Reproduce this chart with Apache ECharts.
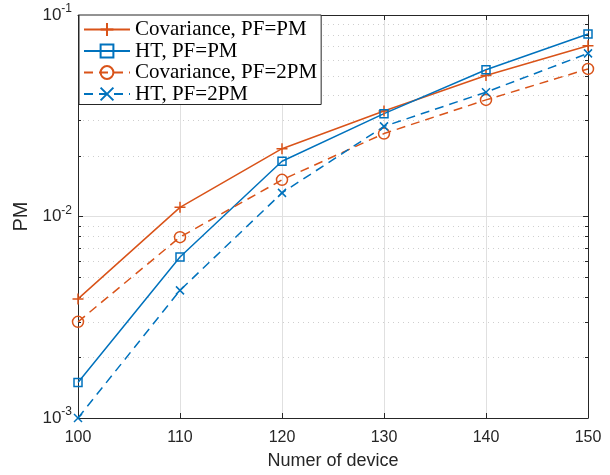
<!DOCTYPE html>
<html>
<head>
<meta charset="utf-8">
<script src="https://cdn.jsdelivr.net/npm/echarts@6/dist/echarts.min.js"></script>
<style>html,body{margin:0;padding:0;background:#fff}#c{width:610px;height:475px}</style>
</head>
<body>
<div id="c"></div>
<script>
const devices = [100, 110, 120, 130, 140, 150];
const covPM  = [0.0039, 0.0111, 0.0217, 0.0334, 0.0501, 0.0703];
const htPM   = [0.0015, 0.0063, 0.0188, 0.0324, 0.0535, 0.0805];
const cov2PM = [0.0030, 0.0079, 0.0152, 0.0258, 0.0379, 0.0540];
const ht2PM  = [0.0010, 0.0043, 0.0131, 0.0280, 0.0414, 0.0645];
const seriesNames = ['Covariance, PF=PM', 'HT, PF=PM', 'Covariance, PF=2PM', 'HT, PF=2PM'];
const minorVals = [0.002,0.003,0.004,0.005,0.006,0.007,0.008,0.009,0.02,0.03,0.04,0.05,0.06,0.07,0.08,0.09];

const ORANGE = '#D95319', BLUE = '#0072BD';
const AX = '#262626';
const plusPath = 'path://M0,-10L0,10M-10,0L10,0';
const crossPath = 'path://M-10,-10L10,10M-10,10L10,-10';

function pairs(vals){ return devices.map((d,i)=>[d, vals[i]]); }

const chart = echarts.init(document.getElementById('c'), null, {renderer:'canvas'});
const axisCommon = {
  axisLine:{show:true, lineStyle:{color:AX, width:1}},
  axisTick:{show:true, inside:true, length:5, lineStyle:{color:AX}},
};
function supFmt(v){
  const e = Math.round(Math.log10(v));
  return '{b|10}{s|' + e + '}';
}
chart.setOption({
  animation:false,
  backgroundColor:'#fff',
  grid:{left:78, right:22, top:15, bottom:56, containLabel:false},
  legend:{
    data: seriesNames,
    orient:'vertical', left:79, top:15,
    backgroundColor:'#fff', borderColor:AX, borderWidth:1,
    padding:[4,4,0,4], itemGap:0.5, itemWidth:46, itemHeight:16,
    textStyle:{fontFamily:'Liberation Serif', fontSize:21, color:'#000'},
  },
  xAxis:[
    Object.assign({type:'value', min:100, max:150, interval:10, position:'bottom',
      name:'Numer of device', nameLocation:'middle', nameGap:34,
      nameTextStyle:{fontFamily:'Liberation Sans', fontSize:18, color:'#262626'},
      axisLabel:{fontFamily:'Liberation Sans', fontSize:16, color:'#262626', margin:12},
      splitLine:{show:true, lineStyle:{color:'#e0e0e0', width:1}}}, axisCommon),
    Object.assign({type:'value', min:100, max:150, interval:10, position:'top',
      axisLabel:{show:false}, splitLine:{show:false}}, axisCommon)
  ],
  yAxis:[
    Object.assign({type:'log', logBase:10, min:0.001, max:0.1, interval:1, position:'left',
      name:'PM', nameLocation:'middle', nameGap:46, nameRotate:90,
      nameTextStyle:{fontFamily:'Liberation Sans', fontSize:20, color:'#262626'},
      axisLabel:{formatter:supFmt, margin:6, color:'#262626',
        rich:{b:{fontFamily:'Liberation Sans', fontSize:17, color:'#262626'},
              s:{fontFamily:'Liberation Sans', fontSize:12, color:'#262626', padding:[0,0,12,0]}}},
      splitLine:{show:true, lineStyle:{color:'#e0e0e0', width:1}}}, axisCommon),
    Object.assign({type:'log', logBase:10, min:0.001, max:0.1, interval:1, position:'right',
      axisLabel:{show:false}, splitLine:{show:false}}, axisCommon)
  ],
  series:[
    {
      type:'custom', name:'minor', silent:true, z:0,
      data: minorVals.map(v=>[100, v]),
      renderItem:function(params, api){
        const cs = params.coordSys;
        const y = Math.round(api.coord([100, api.value(1)])[1]) + 0.5;
        return {type:'group', children:[
          {type:'line', shape:{x1:cs.x, y1:y, x2:cs.x+cs.width, y2:y},
            style:{stroke:'#cfcfcf', lineWidth:1, lineDash:[1,4]}},
          {type:'line', shape:{x1:cs.x, y1:y, x2:cs.x+3, y2:y}, style:{stroke:AX, lineWidth:1}},
          {type:'line', shape:{x1:cs.x+cs.width-3, y1:y, x2:cs.x+cs.width, y2:y}, style:{stroke:AX, lineWidth:1}}
        ]};
      }
    },
    {name:seriesNames[0], type:'line', data:pairs(covPM), z:5,
      symbol:plusPath, symbolSize:11, showSymbol:true,
      lineStyle:{color:ORANGE, width:1.5},
      itemStyle:{color:ORANGE, borderColor:ORANGE, borderWidth:1.5}},
    {name:seriesNames[1], type:'line', data:pairs(htPM), z:5,
      symbol:'rect', symbolSize:8,
      lineStyle:{color:BLUE, width:1.5},
      itemStyle:{color:'rgba(255,255,255,0)', borderColor:BLUE, borderWidth:1.5}},
    {name:seriesNames[2], type:'line', data:pairs(cov2PM), z:5,
      symbol:'circle', symbolSize:11,
      lineStyle:{color:ORANGE, width:1.5, type:[9,6]},
      itemStyle:{color:'rgba(255,255,255,0)', borderColor:ORANGE, borderWidth:1.5}},
    {name:seriesNames[3], type:'line', data:pairs(ht2PM), z:5,
      symbol:crossPath, symbolSize:8,
      lineStyle:{color:BLUE, width:1.5, type:[9,6]},
      itemStyle:{color:BLUE, borderColor:BLUE, borderWidth:1.5}}
  ]
});
</script>
</body>
</html>
